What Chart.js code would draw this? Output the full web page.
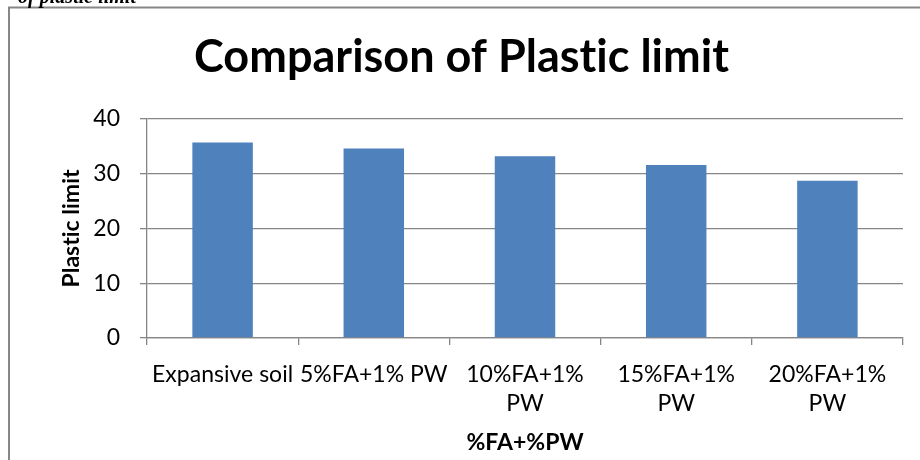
<!DOCTYPE html>
<html>
<head>
<meta charset="utf-8">
<script src="https://cdn.jsdelivr.net/npm/chart.js@4/dist/chart.umd.min.js"></script>
<style>
  html, body { margin: 0; padding: 0; background: #fff; overflow: hidden; }
  #wrap { width: 920px; height: 460px; position: relative; }
</style>
</head>
<body>
<div id="wrap"><canvas id="c" width="920" height="460"></canvas></div>
<script>
// Mixture categories and their measured plastic limit
const categories = ['Expansive soil', '5%FA+1% PW', '10%FA+1% PW', '15%FA+1% PW', '20%FA+1% PW'];
const tickLabels = ['Expansive soil', '5%FA+1% PW', ['10%FA+1%', 'PW'], ['15%FA+1%', 'PW'], ['20%FA+1%', 'PW']];
const plasticLimit = [35.7, 34.6, 33.2, 31.6, 28.7];
const yTicks = [0, 10, 20, 30, 40];

const chartTitle = 'Comparison of Plastic limit';
const xTitle = '%FA+%PW';
const yTitle = 'Plastic limit';
const captionTail = 'of plastic limit';

const FONT = 'Lato, "Open Sans", "DejaVu Sans", sans-serif';
const GRID = '#868686';

// Outer chart frame and the clipped caption line above it
const framePlugin = {
  id: 'frame',
  beforeDraw(chart) {
    const ctx = chart.ctx;
    // a tiny letter spacing keeps "ti" from turning into a ligature
    if ('letterSpacing' in ctx) ctx.letterSpacing = '0.01px';
    ctx.save();
    ctx.fillStyle = '#ffffff';
    ctx.fillRect(0, 0, chart.width, chart.height);
    ctx.strokeStyle = '#878787';
    ctx.lineWidth = 2;
    ctx.strokeRect(9, 7.5, chart.width + 20, chart.height + 20);
    ctx.restore();
  },
  afterDraw(chart) {
    const ctx = chart.ctx;
    ctx.save();
    ctx.fillStyle = '#000';
    ctx.font = 'italic bold 20px "Liberation Serif", serif';
    ctx.textAlign = 'right';
    ctx.textBaseline = 'alphabetic';
    ctx.fillText(captionTail, 136, 3);
    ctx.restore();
  }
};

new Chart(document.getElementById('c'), {
  type: 'bar',
  data: {
    labels: categories,
    datasets: [{
      label: yTitle,
      data: plasticLimit,
      backgroundColor: '#4F81BD',
      borderWidth: 0,
      barPercentage: 0.4,
      categoryPercentage: 1.0
    }]
  },
  options: {
    responsive: false,
    devicePixelRatio: 1,
    animation: false,
    layout: { padding: { left: 20, right: 17, top: 0, bottom: 0 } },
    plugins: {
      legend: { display: false },
      tooltip: { enabled: false },
      title: {
        display: true,
        text: chartTitle,
        color: '#000',
        font: { family: FONT, size: 45, weight: 'bold' },
        padding: { top: 30.5, bottom: 34.5 }
      }
    },
    scales: {
      x: {
        offset: true,
        grid: {
          offset: true,
          drawOnChartArea: false,
          drawTicks: true,
          tickLength: 7,
          color: GRID,
          lineWidth: 1.3
        },
        border: { display: true, color: GRID, width: 1.3 },
        ticks: {
          color: '#000',
          font: { family: FONT, size: 23, lineHeight: 1.26 },
          padding: 15.5,
          maxRotation: 0,
          minRotation: 0,
          autoSkip: false,
          callback: (v, i) => tickLabels[i]
        },
        title: {
          display: true,
          text: xTitle,
          color: '#000',
          font: { family: FONT, size: 23, weight: 'bold' },
          padding: { top: 0, bottom: 3.2 }
        },
        afterFit(scale) { scale.height = 122; }
      },
      y: {
        min: 0,
        max: 40,
        afterBuildTicks(scale) { scale.ticks = yTicks.map(v => ({ value: v })); },
        grid: {
          drawTicks: true,
          tickLength: 7,
          color: GRID,
          lineWidth: 1.3
        },
        border: { display: true, color: GRID, width: 1.3 },
        ticks: {
          color: '#000',
          font: { family: FONT, size: 23 },
          padding: 20
        },
        title: {
          display: true,
          text: yTitle,
          color: '#000',
          font: { family: FONT, size: 23, weight: 'bold' },
          padding: { top: 38.2, bottom: 0 }
        },
        afterFit(scale) { scale.width = 127; }
      }
    }
  },
  plugins: [framePlugin]
});
</script>
</body>
</html>
